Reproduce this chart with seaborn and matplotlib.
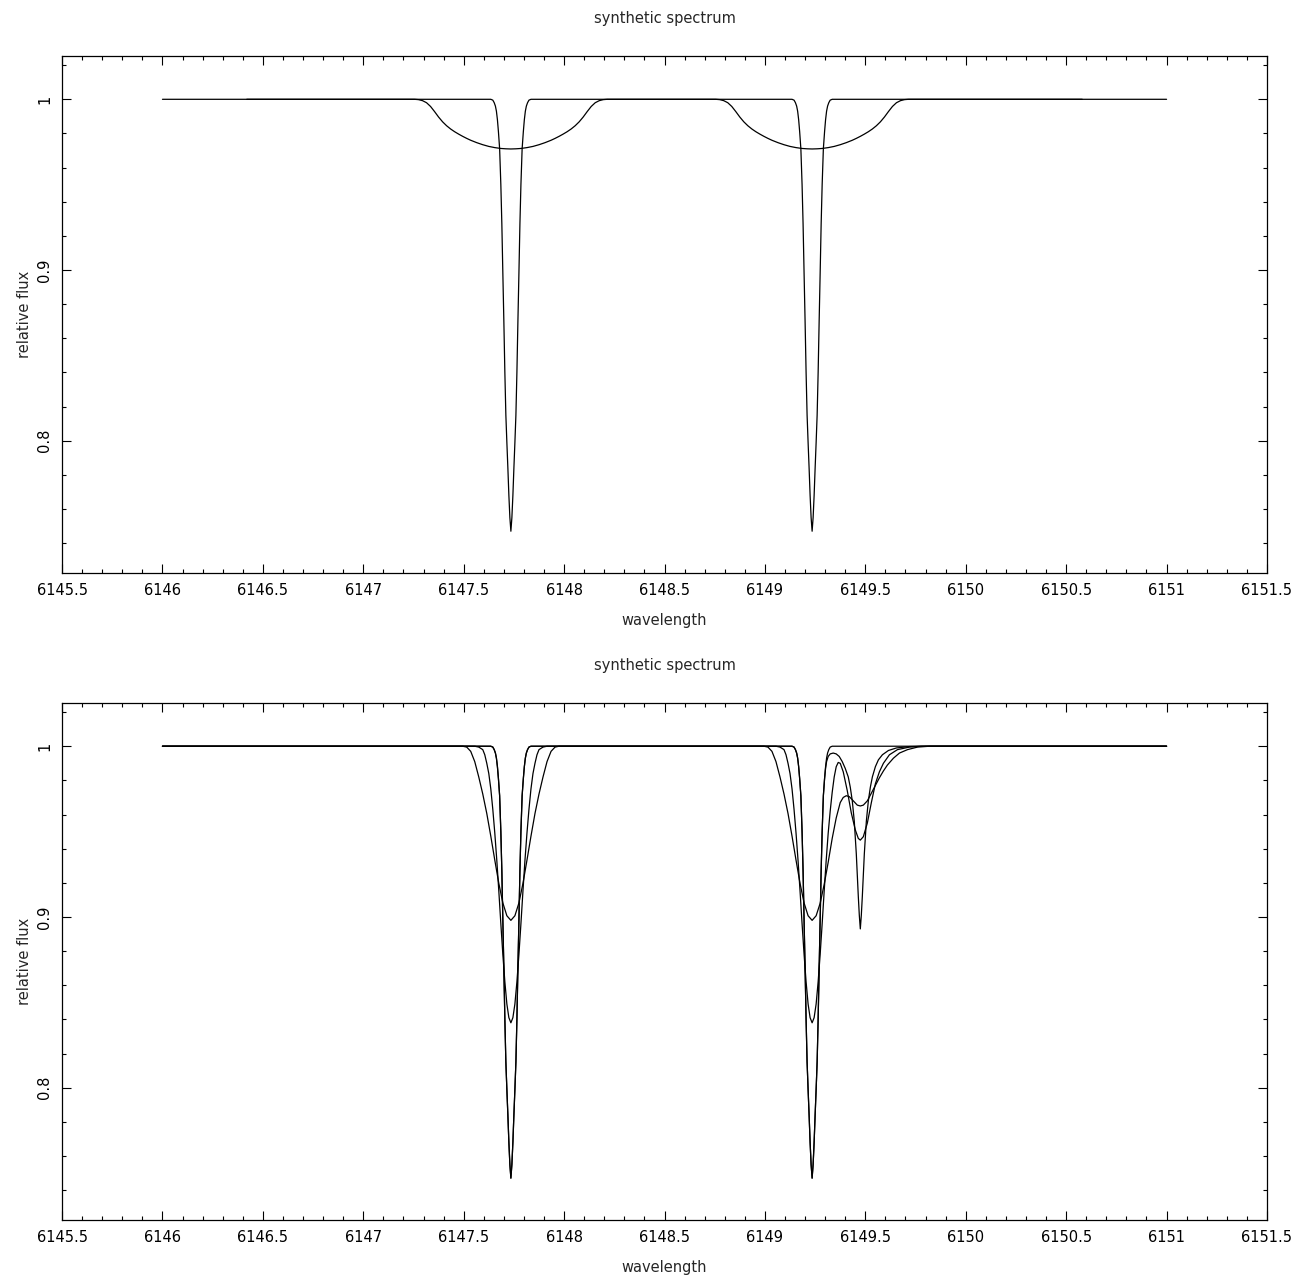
import matplotlib
matplotlib.use("Agg")
import matplotlib.pyplot as plt
import pandas as pd
import seaborn as sns
from matplotlib.ticker import MultipleLocator

# values (wavelength in A, relative flux)

# narrow profile, no extra line (same in both panels)
narrow_wl = [6146.0,
             6147.635, 6147.645, 6147.652, 6147.658, 6147.663, 6147.668, 6147.673, 6147.679, 6147.685,
             6147.690, 6147.695, 6147.700, 6147.705, 6147.710, 6147.715, 6147.720, 6147.725, 6147.730,
             6147.735,
             6147.740, 6147.745, 6147.750, 6147.755, 6147.760, 6147.765, 6147.770, 6147.775, 6147.780,
             6147.785, 6147.791, 6147.797, 6147.802, 6147.807, 6147.812, 6147.818, 6147.825, 6147.835,
             6149.135, 6149.145, 6149.152, 6149.158, 6149.163, 6149.168, 6149.173, 6149.179, 6149.185,
             6149.190, 6149.195, 6149.200, 6149.205, 6149.210, 6149.215, 6149.220, 6149.225, 6149.230,
             6149.235,
             6149.240, 6149.245, 6149.250, 6149.255, 6149.260, 6149.265, 6149.270, 6149.275, 6149.280,
             6149.285, 6149.291, 6149.297, 6149.302, 6149.307, 6149.312, 6149.318, 6149.325, 6149.335,
             6151.0]
narrow_flux = [1.0,
               1.0, 0.9995, 0.998, 0.996, 0.993, 0.988, 0.981, 0.971, 0.950,
               0.927, 0.898, 0.870, 0.840, 0.815, 0.799, 0.784, 0.768, 0.755,
               0.747,
               0.755, 0.768, 0.784, 0.799, 0.815, 0.840, 0.870, 0.898, 0.927,
               0.950, 0.971, 0.981, 0.988, 0.993, 0.996, 0.998, 0.9995, 1.0,
               1.0, 0.9995, 0.998, 0.996, 0.993, 0.988, 0.981, 0.971, 0.950,
               0.927, 0.898, 0.870, 0.840, 0.815, 0.799, 0.784, 0.768, 0.755,
               0.747,
               0.755, 0.768, 0.784, 0.799, 0.815, 0.840, 0.870, 0.898, 0.927,
               0.950, 0.971, 0.981, 0.988, 0.993, 0.996, 0.998, 0.9995, 1.0,
               1.0]

# broad (rotational) profile, top panel
rot_wl = [6146.42,
          6147.255, 6147.275, 6147.295, 6147.315, 6147.335, 6147.355, 6147.375, 6147.395, 6147.415,
          6147.435, 6147.455, 6147.475, 6147.495, 6147.515, 6147.535, 6147.565, 6147.595, 6147.625,
          6147.655, 6147.685, 6147.710,
          6147.735,
          6147.760, 6147.785, 6147.815, 6147.845, 6147.875, 6147.905, 6147.935, 6147.955, 6147.975,
          6147.995, 6148.015, 6148.035, 6148.055, 6148.075, 6148.095, 6148.115, 6148.135, 6148.155,
          6148.175, 6148.195, 6148.215,
          6148.755, 6148.775, 6148.795, 6148.815, 6148.835, 6148.855, 6148.875, 6148.895, 6148.915,
          6148.935, 6148.955, 6148.975, 6148.995, 6149.015, 6149.035, 6149.065, 6149.095, 6149.125,
          6149.155, 6149.185, 6149.210,
          6149.235,
          6149.260, 6149.285, 6149.315, 6149.345, 6149.375, 6149.405, 6149.435, 6149.455, 6149.475,
          6149.495, 6149.515, 6149.535, 6149.555, 6149.575, 6149.595, 6149.615, 6149.635, 6149.655,
          6149.675, 6149.695, 6149.715,
          6150.58]
rot_flux = [1.0,
            1.0, 0.9998, 0.9992, 0.998, 0.9958, 0.9928, 0.9896, 0.9868, 0.9845,
            0.9826, 0.981, 0.9796, 0.9783, 0.9771, 0.976, 0.9746, 0.9734, 0.9724,
            0.9717, 0.9712, 0.971,
            0.9709,
            0.971, 0.9712, 0.9717, 0.9724, 0.9734, 0.9746, 0.976, 0.9771, 0.9783,
            0.9796, 0.981, 0.9826, 0.9845, 0.9868, 0.9896, 0.9928, 0.9958, 0.998,
            0.9992, 0.9998, 1.0,
            1.0, 0.9998, 0.9992, 0.998, 0.9958, 0.9928, 0.9896, 0.9868, 0.9845,
            0.9826, 0.981, 0.9796, 0.9783, 0.9771, 0.976, 0.9746, 0.9734, 0.9724,
            0.9717, 0.9712, 0.971,
            0.9709,
            0.971, 0.9712, 0.9717, 0.9724, 0.9734, 0.9746, 0.976, 0.9771, 0.9783,
            0.9796, 0.981, 0.9826, 0.9845, 0.9868, 0.9896, 0.9928, 0.9958, 0.998,
            0.9992, 0.9998, 1.0,
            1.0]

# bottom panel: narrow profile with the weak line at 6149.475
blend_wl = [6146.0,
            6147.635, 6147.645, 6147.652, 6147.658, 6147.663, 6147.668, 6147.673, 6147.679, 6147.685,
            6147.690, 6147.695, 6147.700, 6147.705, 6147.710, 6147.715, 6147.720, 6147.725, 6147.730,
            6147.735,
            6147.740, 6147.745, 6147.750, 6147.755, 6147.760, 6147.765, 6147.770, 6147.775, 6147.780,
            6147.785, 6147.791, 6147.797, 6147.802, 6147.807, 6147.812, 6147.818, 6147.825, 6147.835,
            6149.135, 6149.145, 6149.152, 6149.158, 6149.163, 6149.168, 6149.173, 6149.179, 6149.185,
            6149.190, 6149.195, 6149.200, 6149.205, 6149.210, 6149.215, 6149.220, 6149.225, 6149.230,
            6149.235,
            6149.240, 6149.245, 6149.250, 6149.255, 6149.260, 6149.265, 6149.270, 6149.275, 6149.280,
            6149.285, 6149.291, 6149.297, 6149.302, 6149.307, 6149.315, 6149.325, 6149.340, 6149.355,
            6149.370, 6149.385, 6149.400, 6149.415, 6149.425, 6149.435, 6149.445, 6149.455, 6149.465,
            6149.470, 6149.475, 6149.480, 6149.485, 6149.495, 6149.505, 6149.515, 6149.525, 6149.535,
            6149.550, 6149.565, 6149.585, 6149.615, 6149.655, 6149.720, 6149.800,
            6151.0]
blend_flux = [1.0,
              1.0, 0.9995, 0.998, 0.996, 0.993, 0.988, 0.981, 0.971, 0.950,
              0.927, 0.898, 0.870, 0.840, 0.815, 0.799, 0.784, 0.768, 0.755,
              0.747,
              0.755, 0.768, 0.784, 0.799, 0.815, 0.840, 0.870, 0.898, 0.927,
              0.950, 0.971, 0.981, 0.988, 0.993, 0.996, 0.998, 0.9995, 1.0,
              1.0, 0.9995, 0.998, 0.996, 0.993, 0.988, 0.981, 0.971, 0.950,
              0.927, 0.898, 0.870, 0.840, 0.815, 0.799, 0.784, 0.768, 0.755,
              0.747,
              0.755, 0.768, 0.784, 0.799, 0.815, 0.840, 0.870, 0.898, 0.927,
              0.950, 0.971, 0.981, 0.987, 0.991, 0.994, 0.9955, 0.996, 0.9955,
              0.994, 0.991, 0.987, 0.982, 0.976, 0.968, 0.956, 0.937, 0.912,
              0.901, 0.893, 0.901, 0.912, 0.937, 0.956, 0.968, 0.976, 0.982,
              0.988, 0.992, 0.995, 0.9975, 0.999, 0.9998, 1.0,
              1.0]

# bottom panel: medium broadening
medium_wl = [6146.0,
             6147.555, 6147.575, 6147.595, 6147.605, 6147.615, 6147.625, 6147.635, 6147.645, 6147.655,
             6147.665, 6147.675, 6147.685, 6147.695, 6147.705, 6147.715, 6147.725,
             6147.735,
             6147.745, 6147.755, 6147.765, 6147.775, 6147.785, 6147.795, 6147.805, 6147.815, 6147.825,
             6147.835, 6147.845, 6147.855, 6147.865, 6147.875, 6147.895, 6147.915,
             6149.055, 6149.075, 6149.095, 6149.105, 6149.115, 6149.125, 6149.135, 6149.145, 6149.155,
             6149.165, 6149.175, 6149.185, 6149.195, 6149.205, 6149.215, 6149.225,
             6149.235,
             6149.245, 6149.255, 6149.265, 6149.275, 6149.285, 6149.295, 6149.305, 6149.315, 6149.325,
             6149.335, 6149.345, 6149.355, 6149.365, 6149.375, 6149.390, 6149.410, 6149.430, 6149.450,
             6149.465, 6149.475, 6149.490, 6149.510, 6149.530, 6149.550, 6149.570, 6149.590, 6149.620,
             6149.660, 6149.720, 6149.780,
             6151.0]
medium_flux = [1.0,
               1.0, 0.9995, 0.998, 0.995, 0.990, 0.984, 0.975, 0.963, 0.949,
               0.933, 0.915, 0.896, 0.878, 0.862, 0.849, 0.841,
               0.838,
               0.841, 0.849, 0.862, 0.878, 0.896, 0.915, 0.933, 0.949, 0.963,
               0.975, 0.984, 0.990, 0.995, 0.998, 0.9995, 1.0,
               1.0, 0.9995, 0.998, 0.995, 0.990, 0.984, 0.975, 0.963, 0.949,
               0.933, 0.915, 0.896, 0.878, 0.862, 0.849, 0.841,
               0.838,
               0.841, 0.849, 0.862, 0.878, 0.896, 0.915, 0.933, 0.949, 0.962,
               0.973, 0.982, 0.988, 0.9905, 0.990, 0.985, 0.974, 0.961, 0.951,
               0.946, 0.945, 0.947, 0.955, 0.967, 0.978, 0.985, 0.990, 0.995,
               0.998, 0.9995, 1.0,
               1.0]

# bottom panel: strongest broadening
broad_wl = [6146.0,
            6147.495, 6147.515, 6147.535, 6147.555, 6147.575, 6147.595, 6147.615, 6147.635, 6147.655,
            6147.675, 6147.695, 6147.715,
            6147.735,
            6147.755, 6147.775, 6147.795, 6147.815, 6147.835, 6147.855, 6147.875, 6147.895, 6147.915,
            6147.935, 6147.955, 6147.975,
            6148.995, 6149.015, 6149.035, 6149.055, 6149.075, 6149.095, 6149.115, 6149.135, 6149.155,
            6149.175, 6149.195, 6149.215,
            6149.235,
            6149.255, 6149.275, 6149.295, 6149.315, 6149.335, 6149.355, 6149.375, 6149.390, 6149.405,
            6149.420, 6149.440, 6149.460, 6149.475, 6149.490, 6149.510, 6149.530, 6149.550, 6149.570,
            6149.590, 6149.610, 6149.640, 6149.670, 6149.710, 6149.760, 6149.820,
            6151.0]
broad_flux = [1.0,
              1.0, 0.9995, 0.997, 0.991, 0.982, 0.972, 0.9606, 0.9473, 0.9332,
              0.9196, 0.9082, 0.9007,
              0.898,
              0.9007, 0.9082, 0.9196, 0.9332, 0.9473, 0.9606, 0.972, 0.982, 0.991,
              0.997, 0.9995, 1.0,
              1.0, 0.9995, 0.997, 0.991, 0.982, 0.972, 0.9606, 0.9473, 0.9332,
              0.9196, 0.9082, 0.9007,
              0.898,
              0.9007, 0.908, 0.919, 0.932, 0.946, 0.958, 0.967, 0.970, 0.971,
              0.9705, 0.968, 0.9655, 0.965, 0.9655, 0.968, 0.9725, 0.977, 0.9815,
              0.9855, 0.989, 0.993, 0.996, 0.998, 0.9995, 1.0,
              1.0]

top_curves = [(narrow_wl, narrow_flux), (rot_wl, rot_flux)]
bottom_curves = [(narrow_wl, narrow_flux), (blend_wl, blend_flux),
                 (medium_wl, medium_flux), (broad_wl, broad_flux)]

sns.set_style("white")
plt.rcParams["font.family"] = ["DejaVu Sans"]
fs = 10.5

fig = plt.figure(figsize=(12.98, 12.78), dpi=100)
ax_top = fig.add_axes([0.0478, 0.5516, 0.9283, 0.4045])
ax_bot = fig.add_axes([0.0478, 0.0454, 0.9283, 0.4045])

for ax, curves in [(ax_top, top_curves), (ax_bot, bottom_curves)]:
    for wl, fl in curves:
        df = pd.DataFrame({"wavelength": wl, "flux": fl})
        sns.lineplot(data=df, x="wavelength", y="flux", ax=ax, color="black",
                     linewidth=0.9, estimator=None, sort=False)

    ax.set_xlim(6145.5, 6151.5)
    ax.set_ylim(0.7225, 1.0253)
    ax.xaxis.set_major_locator(MultipleLocator(0.5))
    ax.xaxis.set_minor_locator(MultipleLocator(0.1))
    ax.yaxis.set_major_locator(MultipleLocator(0.1))
    ax.yaxis.set_minor_locator(MultipleLocator(0.02))
    ax.xaxis.set_major_formatter(matplotlib.ticker.FuncFormatter(lambda v, p: f"{v:g}"))
    ax.yaxis.set_major_formatter(matplotlib.ticker.FuncFormatter(lambda v, p: f"{v:g}"))
    ax.tick_params(which="both", direction="in", top=True, right=True,
                   bottom=True, left=True, width=0.8, colors="black")
    ax.tick_params(which="major", length=6.5, labelsize=fs, pad=7)
    ax.tick_params(which="minor", length=3.2)
    for lab in ax.get_yticklabels():
        lab.set_rotation(90)
        lab.set_va("center")
    for sp in ax.spines.values():
        sp.set_linewidth(0.9)
        sp.set_color("black")
    ax.set_title("synthetic spectrum", fontsize=fs, pad=24)
    ax.set_xlabel("wavelength", fontsize=fs, labelpad=11)
    ax.set_ylabel("relative flux", fontsize=fs, labelpad=4)

fig.savefig("out.png", dpi=100, facecolor="white")
